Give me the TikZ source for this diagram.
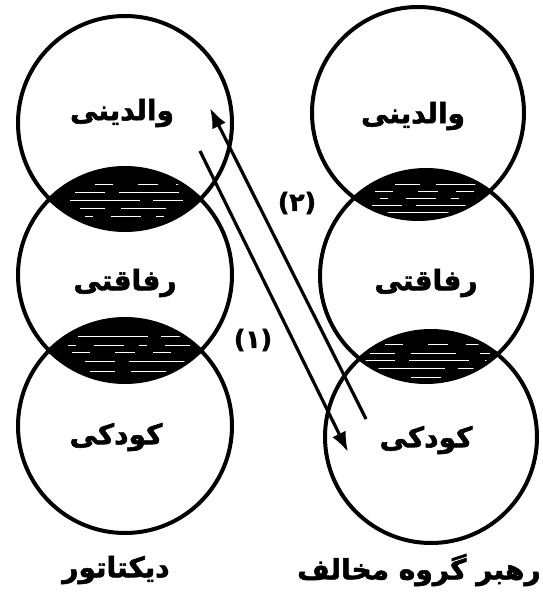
\documentclass[tikz,border=0pt]{standalone}
\usepackage{fontspec}
\usetikzlibrary{arrows.meta}
\TeXXeTstate=1
\newfontfamily\fa[Script=Arabic,BoldFont={DejaVu Sans Bold},BoldFeatures={FakeBold=2}]{DejaVu Sans}
\begin{document}
\begin{tikzpicture}[x=1pt,y=-1pt,
  ring/.style={line width=4pt},
  lbl/.style={font=\fa\bfseries\fontsize{28}{32}\selectfont, inner sep=0pt},
  num/.style={font=\fa\bfseries\fontsize{25}{30}\selectfont, inner sep=0pt},
  flow/.style={line width=3.2pt, -{Latex[length=20pt,width=15pt]}},
  streak/.style={white, line width=0.9pt},
  sA/.style={streak, dash pattern=on 30pt off 14pt on 60pt off 16pt},
  sB/.style={streak, dash pattern=on 18pt off 25pt on 20pt off 18pt},
  sC/.style={streak, dash pattern=on 70pt off 13pt on 30pt off 25pt},
  sD/.style={streak, dash pattern=on 25pt off 16pt on 45pt off 24pt},
  sE/.style={streak, dash pattern=on 8pt off 18pt on 30pt off 15pt}]
\useasboundingbox (0,0) rectangle (542,593);
% centres
\coordinate (LT) at (125,123);
\coordinate (LM) at (125,275);
\coordinate (LB) at (125,426);
\coordinate (RT) at (418,113);
\coordinate (RM) at (426,276);
\coordinate (RB) at (431,437);
\def\rl{107pt}
\def\rr{106pt}
% lenses
\begin{scope}
  \clip (LT) circle[radius=\rl];
  \clip (LM) circle[radius=\rl];
  \fill (LM) circle[radius=\rl];
  \foreach \yy/\st/\xx in {184/sB/95, 192/sA/75, 200/sC/70, 208/sD/80, 216/sE/85}
    \draw[\st] (\xx,\yy) -- (190,\yy);
\end{scope}
\begin{scope}
  \clip (LM) circle[radius=\rl];
  \clip (LB) circle[radius=\rl];
  \fill (LB) circle[radius=\rl];
  \foreach \yy/\st/\xx in {336/sC/78, 345/sE/68, 352/sB/72, 361/sA/85, 371/sD/90}
    \draw[\st] (\xx,\yy) -- (190,\yy);
\end{scope}
\begin{scope}
  \clip (RT) circle[radius=\rr];
  \clip (RM) circle[radius=\rr];
  \fill (RM) circle[radius=\rr];
  \foreach \yy/\st/\xx in {184/sD/395, 191/sB/375, 198/sE/380, 205/sA/372, 212/sC/380}
    \draw[\st] (\xx,\yy) -- (480,\yy);
\end{scope}
\begin{scope}
  \clip (RM) circle[radius=\rr];
  \clip (RB) circle[radius=\rr];
  \fill (RB) circle[radius=\rr];
  \foreach \yy/\st/\xx in {344/sB/385, 353/sD/370, 360/sA/365, 368/sC/375, 377/sE/385}
    \draw[\st] (\xx,\yy) -- (490,\yy);
\end{scope}
% rings
\foreach \c in {LT,LM,LB} \draw[ring] (\c) circle[radius=\rl];
\foreach \c in {RT,RM,RB} \draw[ring] (\c) circle[radius=\rr];
% labels
\node[lbl] (lt) at (122,113) {\beginR والدینی\endR};
\node[lbl] (lm) at (125,283) {\beginR رفاقتی\endR};
\node[lbl] (lb) at (116,437) {\beginR کودکی\endR};
\node[lbl] (rt) at (413,116) {\beginR والدینی\endR};
\node[lbl] (rm) at (426,283) {\beginR رفاقتی\endR};
\node[lbl] (rb) at (426,440) {\beginR کودکی\endR};
\node[lbl] (dict) at (116,570) {\beginR دیکتاتور\endR};
\node[lbl, anchor=west] (opp) at (297,570) {\beginR رهبر گروه مخالف\endR};
% arrows
\coordinate (a1s) at (200,151);
\coordinate (a1e) at (348,452);
\coordinate (a2s) at (366,419);
\coordinate (a2e) at (210,108);
\draw[flow] (a1s) -- (a1e);
\draw[flow] (a2s) -- (a2e);
\node[num] (n2) at (297,203) {(۲)};
\node[num] (n1) at (253,340) {(۱)};
\end{tikzpicture}
\end{document}
